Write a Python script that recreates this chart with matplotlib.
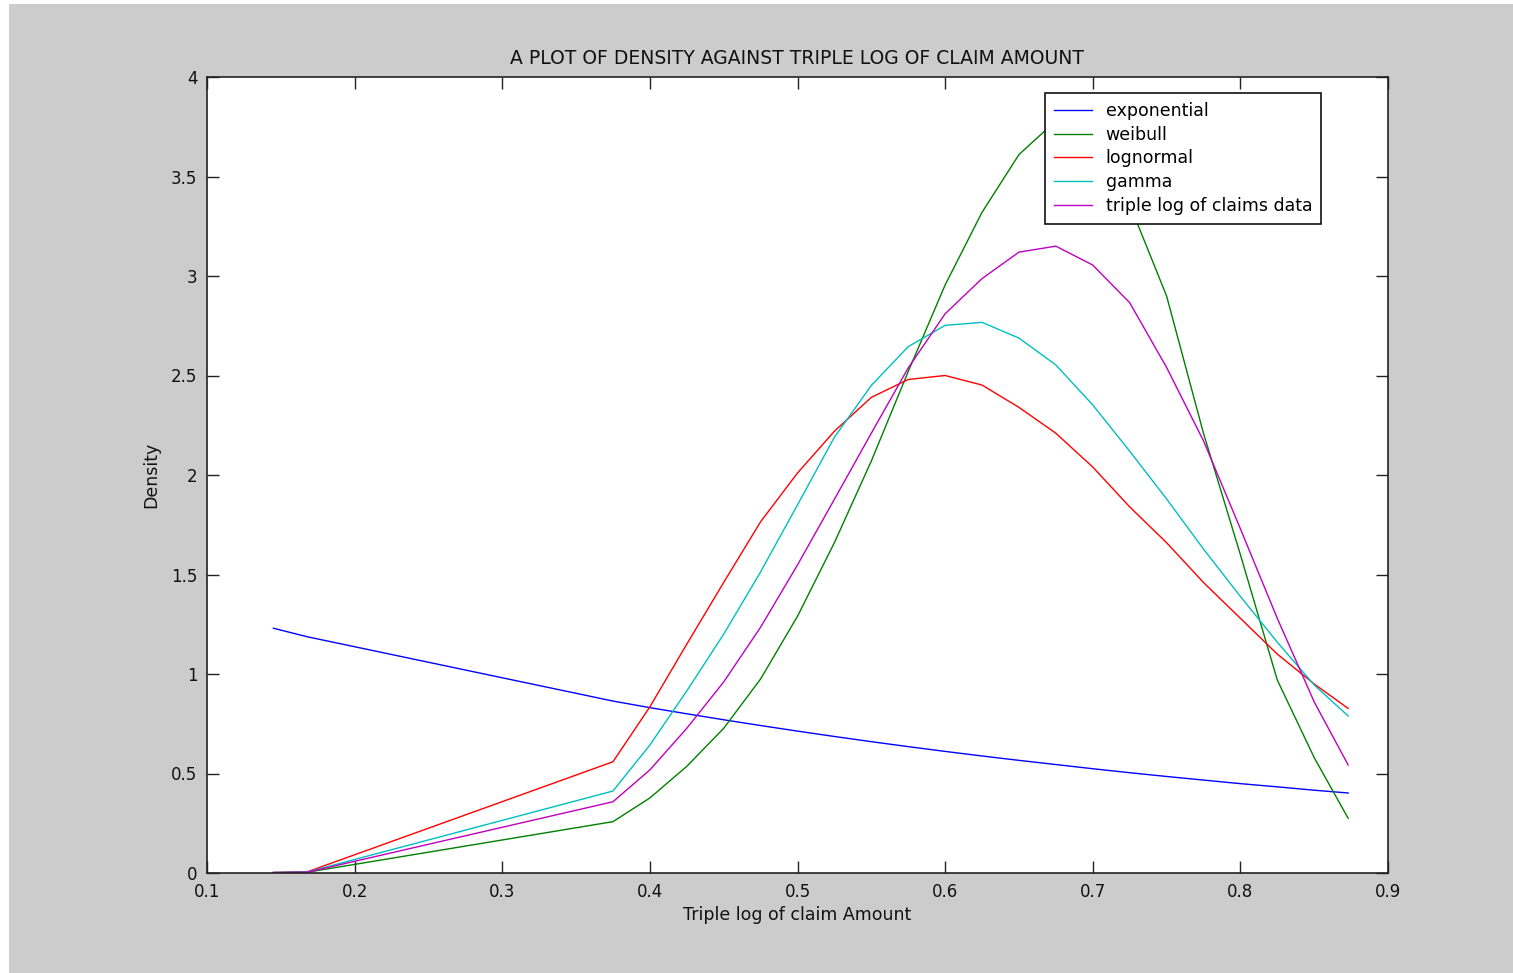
import numpy as np
import matplotlib
matplotlib.use("Agg")
import matplotlib.pyplot as plt
from matplotlib.patches import Rectangle

# --- DATA ---
x_vals = [0.145, 0.168, 0.375, 0.400, 0.425, 0.450, 0.475, 0.500, 0.525, 0.550,
          0.575, 0.600, 0.625, 0.650, 0.675, 0.700, 0.725, 0.750, 0.775, 0.800,
          0.825, 0.850, 0.873]

exponential = [1.230, 1.187, 0.864, 0.831, 0.800, 0.770, 0.741, 0.713, 0.686, 0.660,
               0.635, 0.611, 0.588, 0.566, 0.545, 0.524, 0.504, 0.485, 0.467, 0.449,
               0.433, 0.416, 0.402]
weibull = [0.001, 0.004, 0.258, 0.377, 0.536, 0.727, 0.975, 1.29, 1.66, 2.07,
           2.52, 2.955, 3.32, 3.61, 3.78, 3.75, 3.36, 2.90, 2.21, 1.60,
           0.97, 0.58, 0.275]
lognormal = [0.003, 0.006, 0.559, 0.835, 1.15, 1.46, 1.765, 2.01, 2.22, 2.39,
             2.48, 2.50, 2.452, 2.34, 2.21, 2.04, 1.84, 1.66, 1.46, 1.28,
             1.10, 0.95, 0.827]
gamma = [0.003, 0.005, 0.412, 0.643, 0.915, 1.20, 1.513, 1.85, 2.19, 2.45,
         2.645, 2.752, 2.767, 2.688, 2.553, 2.352, 2.12, 1.88, 1.628, 1.39,
         1.16, 0.945, 0.789]
claims = [0.002, 0.004, 0.358, 0.518, 0.727, 0.96, 1.235, 1.548, 1.878, 2.21,
          2.538, 2.81, 2.987, 3.12, 3.15, 3.055, 2.866, 2.541, 2.172, 1.73,
          1.28, 0.86, 0.543]

series = [
    ("exponential", exponential, "#0000ff"),
    ("weibull", weibull, "#008000"),
    ("lognormal", lognormal, "#ff0000"),
    ("gamma", gamma, "#00bfbf"),
    ("triple log of claims data", claims, "#bf00bf"),
]

x_ticks = [0.1, 0.2, 0.3, 0.4, 0.5, 0.6, 0.7, 0.8, 0.9]
y_ticks = [0, 0.5, 1, 1.5, 2, 2.5, 3, 3.5, 4]

BG = "#cccccc"
plt.rcParams['font.family'] = ['DejaVu Sans']

W, H = 1513, 973
fig = plt.figure(figsize=(W / 100, H / 100), dpi=100, facecolor=BG)
# thin white strips at the top and left edge, like the screenshot
fig.patches.append(Rectangle((0, (H - 4) / H), 1, 4 / H, transform=fig.transFigure,
                             facecolor="white", edgecolor="none"))
fig.patches.append(Rectangle((0, 0), 9 / W, 1, transform=fig.transFigure,
                             facecolor="white", edgecolor="none"))

ax = fig.add_axes([207 / W, (H - 873) / H, (1388 - 207) / W, (873 - 77) / H])
ax.set_facecolor("white")

for name, vals, col in series:
    ax.plot(x_vals, vals, color=col, linewidth=1.0, label=name)

ax.set_xlim(0.1, 0.9)
ax.set_ylim(0, 4)
ax.set_xticks(x_ticks)
ax.set_xticklabels([f"{t:g}" for t in x_ticks])
ax.set_yticks(y_ticks)
ax.set_yticklabels([f"{t:g}" for t in y_ticks])
ax.tick_params(direction="in", length=8.5, width=1.0, color="#222222",
               top=True, right=True, labelsize=12, pad=7, labelcolor="#111111")

for sp in ax.spines.values():
    sp.set_linewidth(1.2)
    sp.set_color("#222222")

ax.set_title("A PLOT OF DENSITY AGAINST TRIPLE LOG OF CLAIM AMOUNT",
             fontsize=13.5, pad=9, color="#111111")
ax.set_xlabel("Triple log of claim Amount", fontsize=12.5, labelpad=4, color="#111111")
ax.set_ylabel("Density", fontsize=12.5, labelpad=8, color="#111111")

leg = ax.legend(loc="upper right", bbox_to_anchor=((1321 - 207) / 1181, (873 - 93) / 796),
                borderaxespad=0, fontsize=12.5, frameon=True, fancybox=False,
                handlelength=2.2, handletextpad=0.8, labelspacing=0.34,
                borderpad=0.5)
leg.get_frame().set_edgecolor("#111111")
leg.get_frame().set_linewidth(1.2)
leg.get_frame().set_alpha(1)

fig.savefig("out.png", dpi=100, facecolor=fig.get_facecolor())
